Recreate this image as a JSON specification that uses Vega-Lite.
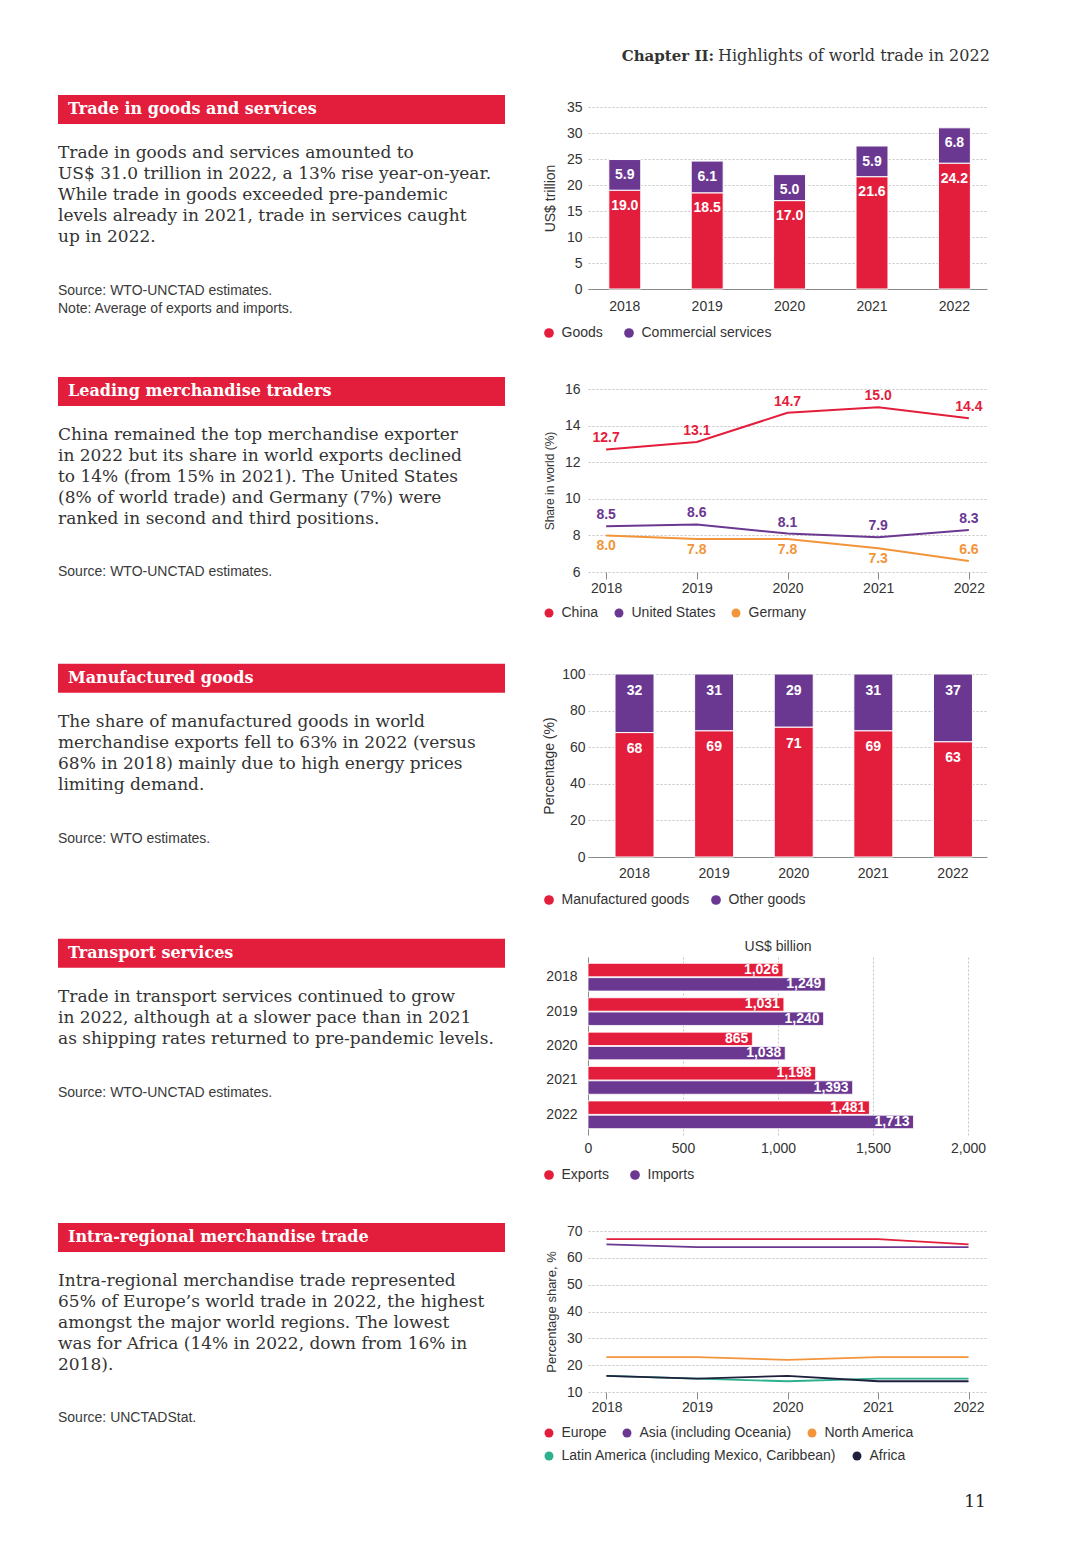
{
  "$schema": "https://vega.github.io/schema/vega-lite/v6.json",
  "background": "white",
  "padding": {"left": 58, "top": 0, "right": 0, "bottom": 0},
  "autosize": {"type": "pad"},
  "columns": 2,
  "spacing": 0,
  "align": "each",
  "bounds": "flush",
  "resolve": {"scale": {"color": "independent"}, "legend": {"color": "independent"}},
  "config": {
    "view": {"stroke": null},
    "font": "Liberation Sans",
    "axis": {
      "labelFont": "Liberation Sans", "labelFontSize": 14, "labelColor": "#333333",
      "titleFont": "Liberation Sans", "titleFontWeight": "normal", "titleColor": "#333333",
      "gridColor": "#c4c4c4", "gridDash": [2, 2], "domainColor": "#8a8a8a", "tickColor": "#8a8a8a",
      "ticks": false, "domain": false, "grid": false
    },
    "legend": {
      "labelFont": "Liberation Sans", "labelFontSize": 14, "labelColor": "#333333",
      "padding": 0, "labelOffset": 5.5, "columnPadding": 19, "labelLimit": 400
    }
  },
  "concat": [
    {"width": 530, "height": 107, "view": {"fill": "white"}, "data": {"values": []}, "mark": "point"},
    {
      "width": 492, "height": 107, "view": {"fill": "white"},
      "data": {"values": [{"a": "Chapter II:", "b": "Highlights of world trade in 2022"}]},
      "layer": [
        {"mark": {"type": "text", "align": "right", "baseline": "alphabetic", "font": "DejaVu Serif", "fontWeight": "bold", "fontSize": 15, "color": "#333333"},
         "encoding": {"x": {"value": 126}, "y": {"value": 61}, "text": {"field": "a"}}},
        {"mark": {"type": "text", "align": "left", "baseline": "alphabetic", "font": "DejaVu Serif", "fontSize": 16, "color": "#333333"},
         "encoding": {"x": {"value": 130}, "y": {"value": 61}, "text": {"field": "b"}}}
      ]
    },
    {
      "width": 530, "height": 182,
      "data": {"values": [
        {"kind": "header", "line": -1.3, "text": "Trade in goods and services"},
        {"kind": "body", "line": 1, "text": "Trade in goods and services amounted to"},
        {"kind": "body", "line": 2, "text": "US$ 31.0 trillion in 2022, a 13% rise year-on-year."},
        {"kind": "body", "line": 3, "text": "While trade in goods exceeded pre-pandemic"},
        {"kind": "body", "line": 4, "text": "levels already in 2021, trade in services caught"},
        {"kind": "body", "line": 5, "text": "up in 2022."},
        {"kind": "source", "line": 7.5, "text": "Source: WTO-UNCTAD estimates."},
        {"kind": "source", "line": 8.36, "text": "Note: Average of exports and imports."}
      ]},
      "encoding": {
        "y": {"field": "line", "type": "quantitative", "scale": {"domain": [-1.417, 7.209], "reverse": true, "nice": false, "zero": false}, "axis": null}
      },
      "layer": [
        {"transform": [{"filter": "datum.kind == 'header'"}], "mark": {"type": "rect", "color": "#E31E3C"},
         "encoding": {"x": {"value": 0}, "x2": {"value": 447}, "y": {"datum": -1.986}, "y2": {"datum": -0.611}}},
        {"transform": [{"filter": "datum.kind == 'header'"}], "mark": {"type": "text", "align": "left", "baseline": "middle", "font": "DejaVu Serif", "fontWeight": "bold", "fontSize": 16, "color": "white", "dx": 10},
         "encoding": {"x": {"value": 0}, "text": {"field": "text"}}},
        {"transform": [{"filter": "datum.kind == 'body'"}], "mark": {"type": "text", "align": "left", "baseline": "alphabetic", "font": "DejaVu Serif", "fontSize": 17, "color": "#333333"},
         "encoding": {"x": {"value": 0}, "text": {"field": "text"}}},
        {"transform": [{"filter": "datum.kind == 'source'"}], "mark": {"type": "text", "align": "left", "baseline": "alphabetic", "font": "Liberation Sans", "fontSize": 14, "color": "#3a3a3a"},
         "encoding": {"x": {"value": 0}, "text": {"field": "text"}}}
      ]
    },
    {
      "width": 399, "height": 182,
      "data": {"values": [
        {"year": "2018", "category": "Goods", "value": 19.0, "order": 1},
        {"year": "2018", "category": "Commercial services", "value": 5.9, "order": 2},
        {"year": "2019", "category": "Goods", "value": 18.5, "order": 1},
        {"year": "2019", "category": "Commercial services", "value": 6.1, "order": 2},
        {"year": "2020", "category": "Goods", "value": 17.0, "order": 1},
        {"year": "2020", "category": "Commercial services", "value": 5.0, "order": 2},
        {"year": "2021", "category": "Goods", "value": 21.6, "order": 1},
        {"year": "2021", "category": "Commercial services", "value": 5.9, "order": 2},
        {"year": "2022", "category": "Goods", "value": 24.2, "order": 1},
        {"year": "2022", "category": "Commercial services", "value": 6.8, "order": 2}
      ]},
      "encoding": {
        "x": {"field": "year", "type": "ordinal", "scale": {"paddingInner": 0.612, "paddingOuter": 0.227, "align": 0.556},
              "axis": {"title": null, "labelAngle": 0, "domain": true, "labelPadding": 10}},
        "y": {"field": "value", "type": "quantitative", "stack": "zero", "scale": {"domain": [0, 35], "nice": false},
              "axis": {"values": [0, 5, 10, 15, 20, 25, 30, 35], "grid": true, "title": "US$ trillion", "titleFontSize": 14, "labelPadding": 6, "titlePadding": 9}},
        "order": {"field": "order", "type": "quantitative"}
      },
      "layer": [
        {"mark": {"type": "bar", "stroke": "white", "strokeWidth": 1},
         "encoding": {"color": {"field": "category", "type": "nominal",
           "scale": {"domain": ["Goods", "Commercial services"], "range": ["#E31E3C", "#6B3891"]},
           "legend": {"orient": "none", "legendX": -46, "legendY": 219, "direction": "horizontal", "title": null, "symbolType": "circle", "symbolSize": 95, "symbolStrokeWidth": 0}}}},
        {"mark": {"type": "text", "dy": 15.5, "baseline": "middle", "fontWeight": "bold", "fontSize": 14, "color": "white"},
         "encoding": {"detail": {"field": "category"}, "text": {"field": "value", "type": "quantitative", "format": ".1f"}}}
      ]
    },
    {"width": 1, "height": 100, "data": {"values": []}, "mark": "point"},
    {"width": 1, "height": 100, "data": {"values": []}, "mark": "point"},
    {
      "width": 530, "height": 183,
      "data": {"values": [
        {"kind": "header", "line": -1.3, "text": "Leading merchandise traders"},
        {"kind": "body", "line": 1, "text": "China remained the top merchandise exporter"},
        {"kind": "body", "line": 2, "text": "in 2022 but its share in world exports declined"},
        {"kind": "body", "line": 3, "text": "to 14% (from 15% in 2021). The United States"},
        {"kind": "body", "line": 4, "text": "(8% of world trade) and Germany (7%) were"},
        {"kind": "body", "line": 5, "text": "ranked in second and third positions."},
        {"kind": "source", "line": 7.45, "text": "Source: WTO-UNCTAD estimates."}
      ]},
      "encoding": {
        "y": {"field": "line", "type": "quantitative", "scale": {"domain": [-1.417, 7.256], "reverse": true, "nice": false, "zero": false}, "axis": null}
      },
      "layer": [
        {"transform": [{"filter": "datum.kind == 'header'"}], "mark": {"type": "rect", "color": "#E31E3C"},
         "encoding": {"x": {"value": 0}, "x2": {"value": 447}, "y": {"datum": -1.986}, "y2": {"datum": -0.611}}},
        {"transform": [{"filter": "datum.kind == 'header'"}], "mark": {"type": "text", "align": "left", "baseline": "middle", "font": "DejaVu Serif", "fontWeight": "bold", "fontSize": 16, "color": "white", "dx": 10},
         "encoding": {"x": {"value": 0}, "text": {"field": "text"}}},
        {"transform": [{"filter": "datum.kind == 'body'"}], "mark": {"type": "text", "align": "left", "baseline": "alphabetic", "font": "DejaVu Serif", "fontSize": 17, "color": "#333333"},
         "encoding": {"x": {"value": 0}, "text": {"field": "text"}}},
        {"transform": [{"filter": "datum.kind == 'source'"}], "mark": {"type": "text", "align": "left", "baseline": "alphabetic", "font": "Liberation Sans", "fontSize": 14, "color": "#3a3a3a"},
         "encoding": {"x": {"value": 0}, "text": {"field": "text"}}}
      ]
    },
    {
      "width": 399, "height": 183,
      "data": {"values": [
        {"year": "2018", "economy": "China", "share": 12.7},
        {"year": "2019", "economy": "China", "share": 13.1},
        {"year": "2020", "economy": "China", "share": 14.7},
        {"year": "2021", "economy": "China", "share": 15.0},
        {"year": "2022", "economy": "China", "share": 14.4},
        {"year": "2018", "economy": "United States", "share": 8.5},
        {"year": "2019", "economy": "United States", "share": 8.6},
        {"year": "2020", "economy": "United States", "share": 8.1},
        {"year": "2021", "economy": "United States", "share": 7.9},
        {"year": "2022", "economy": "United States", "share": 8.3},
        {"year": "2018", "economy": "Germany", "share": 8.0},
        {"year": "2019", "economy": "Germany", "share": 7.8},
        {"year": "2020", "economy": "Germany", "share": 7.8},
        {"year": "2021", "economy": "Germany", "share": 7.3},
        {"year": "2022", "economy": "Germany", "share": 6.6}
      ]},
      "encoding": {
        "x": {"field": "year", "type": "ordinal", "scale": {"type": "point", "padding": 0.2},
              "axis": {"title": null, "labelAngle": 0, "ticks": true, "tickSize": 7, "labelPadding": 2}},
        "y": {"field": "share", "type": "quantitative", "scale": {"domain": [6, 16], "nice": false, "zero": false},
              "axis": {"values": [6, 8, 10, 12, 14, 16], "grid": true, "title": "Share in world (%)", "titleFontSize": 12, "labelPadding": 8, "titlePadding": 8}},
        "color": {"field": "economy", "type": "nominal",
          "scale": {"domain": ["China", "United States", "Germany"], "range": ["#E31E3C", "#6B3891", "#F2953A"]},
          "legend": {"orient": "none", "legendX": -46, "legendY": 217, "direction": "horizontal", "title": null, "symbolType": "circle", "symbolSize": 80, "symbolStrokeWidth": 0, "columnPadding": 13}}
      },
      "layer": [
        {"mark": {"type": "line", "strokeWidth": 2}},
        {"transform": [{"filter": "datum.economy != 'Germany' || datum.year == '2022'"}],
         "mark": {"type": "text", "dy": -11, "baseline": "middle", "fontWeight": "bold", "fontSize": 14},
         "encoding": {"text": {"field": "share", "type": "quantitative", "format": ".1f"}}},
        {"transform": [{"filter": "datum.economy == 'Germany' && datum.year != '2022'"}],
         "mark": {"type": "text", "dy": 11, "baseline": "middle", "fontWeight": "bold", "fontSize": 14},
         "encoding": {"text": {"field": "share", "type": "quantitative", "format": ".1f"}}}
      ]
    },
    {"width": 1, "height": 102, "data": {"values": []}, "mark": "point"},
    {"width": 1, "height": 102, "data": {"values": []}, "mark": "point"},
    {
      "width": 530, "height": 183,
      "data": {"values": [
        {"kind": "header", "line": -1.3, "text": "Manufactured goods"},
        {"kind": "body", "line": 1, "text": "The share of manufactured goods in world"},
        {"kind": "body", "line": 2, "text": "merchandise exports fell to 63% in 2022 (versus"},
        {"kind": "body", "line": 3, "text": "68% in 2018) mainly due to high energy prices"},
        {"kind": "body", "line": 4, "text": "limiting demand."},
        {"kind": "source", "line": 6.5, "text": "Source: WTO estimates."}
      ]},
      "encoding": {
        "y": {"field": "line", "type": "quantitative", "scale": {"domain": [-1.498, 7.175], "reverse": true, "nice": false, "zero": false}, "axis": null}
      },
      "layer": [
        {"transform": [{"filter": "datum.kind == 'header'"}], "mark": {"type": "rect", "color": "#E31E3C"},
         "encoding": {"x": {"value": 0}, "x2": {"value": 447}, "y": {"datum": -1.986}, "y2": {"datum": -0.611}}},
        {"transform": [{"filter": "datum.kind == 'header'"}], "mark": {"type": "text", "align": "left", "baseline": "middle", "font": "DejaVu Serif", "fontWeight": "bold", "fontSize": 16, "color": "white", "dx": 10},
         "encoding": {"x": {"value": 0}, "text": {"field": "text"}}},
        {"transform": [{"filter": "datum.kind == 'body'"}], "mark": {"type": "text", "align": "left", "baseline": "alphabetic", "font": "DejaVu Serif", "fontSize": 17, "color": "#333333"},
         "encoding": {"x": {"value": 0}, "text": {"field": "text"}}},
        {"transform": [{"filter": "datum.kind == 'source'"}], "mark": {"type": "text", "align": "left", "baseline": "alphabetic", "font": "Liberation Sans", "fontSize": 14, "color": "#3a3a3a"},
         "encoding": {"x": {"value": 0}, "text": {"field": "text"}}}
      ]
    },
    {
      "width": 399, "height": 183,
      "data": {"values": [
        {"year": "2018", "group": "Manufactured goods", "pct": 68, "order": 1},
        {"year": "2018", "group": "Other goods", "pct": 32, "order": 2},
        {"year": "2019", "group": "Manufactured goods", "pct": 69, "order": 1},
        {"year": "2019", "group": "Other goods", "pct": 31, "order": 2},
        {"year": "2020", "group": "Manufactured goods", "pct": 71, "order": 1},
        {"year": "2020", "group": "Other goods", "pct": 29, "order": 2},
        {"year": "2021", "group": "Manufactured goods", "pct": 69, "order": 1},
        {"year": "2021", "group": "Other goods", "pct": 31, "order": 2},
        {"year": "2022", "group": "Manufactured goods", "pct": 63, "order": 1},
        {"year": "2022", "group": "Other goods", "pct": 37, "order": 2}
      ]},
      "encoding": {
        "x": {"field": "year", "type": "ordinal", "scale": {"paddingInner": 0.51, "paddingOuter": 0.261, "align": 0.65},
              "axis": {"title": null, "labelAngle": 0, "domain": true, "labelPadding": 9}},
        "y": {"field": "pct", "type": "quantitative", "stack": "zero", "scale": {"domain": [0, 100], "nice": false},
              "axis": {"values": [0, 20, 40, 60, 80, 100], "grid": true, "title": "Percentage (%)", "titleFontSize": 14, "labelPadding": 3, "titlePadding": 5}},
        "order": {"field": "order", "type": "quantitative"}
      },
      "layer": [
        {"mark": {"type": "bar", "stroke": "white", "strokeWidth": 1},
         "encoding": {"color": {"field": "group", "type": "nominal",
           "scale": {"domain": ["Manufactured goods", "Other goods"], "range": ["#E31E3C", "#6B3891"]},
           "legend": {"orient": "none", "legendX": -46, "legendY": 219, "direction": "horizontal", "title": null, "symbolType": "circle", "symbolSize": 95, "symbolStrokeWidth": 0}}}},
        {"mark": {"type": "text", "dy": 16.5, "baseline": "middle", "fontWeight": "bold", "fontSize": 14, "color": "white"},
         "encoding": {"detail": {"field": "group"}, "text": {"field": "pct", "type": "quantitative"}}}
      ]
    },
    {"width": 1, "height": 100, "data": {"values": []}, "mark": "point"},
    {"width": 1, "height": 100, "data": {"values": []}, "mark": "point"},
    {
      "width": 530, "height": 178,
      "data": {"values": [
        {"kind": "header", "line": -1.3, "text": "Transport services"},
        {"kind": "body", "line": 1, "text": "Trade in transport services continued to grow"},
        {"kind": "body", "line": 2, "text": "in 2022, although at a slower pace than in 2021"},
        {"kind": "body", "line": 3, "text": "as shipping rates returned to pre-pandemic levels."},
        {"kind": "source", "line": 5.5, "text": "Source: WTO-UNCTAD estimates."}
      ]},
      "encoding": {
        "y": {"field": "line", "type": "quantitative", "scale": {"domain": [-1.118, 7.318], "reverse": true, "nice": false, "zero": false}, "axis": null}
      },
      "layer": [
        {"transform": [{"filter": "datum.kind == 'header'"}], "mark": {"type": "rect", "color": "#E31E3C"},
         "encoding": {"x": {"value": 0}, "x2": {"value": 447}, "y": {"datum": -1.986}, "y2": {"datum": -0.611}}},
        {"transform": [{"filter": "datum.kind == 'header'"}], "mark": {"type": "text", "align": "left", "baseline": "middle", "font": "DejaVu Serif", "fontWeight": "bold", "fontSize": 16, "color": "white", "dx": 10},
         "encoding": {"x": {"value": 0}, "text": {"field": "text"}}},
        {"transform": [{"filter": "datum.kind == 'body'"}], "mark": {"type": "text", "align": "left", "baseline": "alphabetic", "font": "DejaVu Serif", "fontSize": 17, "color": "#333333"},
         "encoding": {"x": {"value": 0}, "text": {"field": "text"}}},
        {"transform": [{"filter": "datum.kind == 'source'"}], "mark": {"type": "text", "align": "left", "baseline": "alphabetic", "font": "Liberation Sans", "fontSize": 14, "color": "#3a3a3a"},
         "encoding": {"x": {"value": 0}, "text": {"field": "text"}}}
      ]
    },
    {
      "width": 380, "height": 178,
      "title": {"text": "US$ billion", "fontSize": 14, "fontWeight": "normal", "color": "#333333", "font": "Liberation Sans", "offset": 3, "anchor": "middle", "frame": "group"},
      "data": {"values": [
        {"year": "2018", "flow": "Exports", "usd": 1026},
        {"year": "2018", "flow": "Imports", "usd": 1249},
        {"year": "2019", "flow": "Exports", "usd": 1031},
        {"year": "2019", "flow": "Imports", "usd": 1240},
        {"year": "2020", "flow": "Exports", "usd": 865},
        {"year": "2020", "flow": "Imports", "usd": 1038},
        {"year": "2021", "flow": "Exports", "usd": 1198},
        {"year": "2021", "flow": "Imports", "usd": 1393},
        {"year": "2022", "flow": "Exports", "usd": 1481},
        {"year": "2022", "flow": "Imports", "usd": 1713}
      ]},
      "encoding": {
        "y": {"field": "year", "type": "nominal", "scale": {"paddingInner": 0.195, "paddingOuter": 0.185},
              "axis": {"title": null, "domain": true, "labelPadding": 11}},
        "yOffset": {"field": "flow", "type": "nominal", "scale": {"domain": ["Exports", "Imports"], "paddingInner": 0.06}},
        "x": {"field": "usd", "type": "quantitative", "scale": {"domain": [0, 2000], "nice": false},
              "axis": {"values": [0, 500, 1000, 1500, 2000], "format": ",.0f", "grid": true, "title": null, "labelPadding": 6, "labelFlush": false}}
      },
      "layer": [
        {"mark": {"type": "bar", "stroke": "white", "strokeWidth": 0.8},
         "encoding": {"color": {"field": "flow", "type": "nominal",
           "scale": {"domain": ["Exports", "Imports"], "range": ["#E31E3C", "#6B3891"]},
           "legend": {"orient": "none", "legendX": -46, "legendY": 211, "direction": "horizontal", "title": null, "symbolType": "circle", "symbolSize": 95, "symbolStrokeWidth": 0}}}},
        {"mark": {"type": "text", "align": "right", "dx": -4, "baseline": "middle", "fontWeight": "bold", "fontSize": 14, "color": "white"},
         "encoding": {"text": {"field": "usd", "type": "quantitative", "format": ",.0f"}}}
      ]
    },
    {"width": 1, "height": 96, "data": {"values": []}, "mark": "point"},
    {"width": 1, "height": 96, "data": {"values": []}, "mark": "point"},
    {
      "width": 530, "height": 161,
      "data": {"values": [
        {"kind": "header", "line": -1.3, "text": "Intra-regional merchandise trade"},
        {"kind": "body", "line": 1, "text": "Intra-regional merchandise trade represented"},
        {"kind": "body", "line": 2, "text": "65% of Europe’s world trade in 2022, the highest"},
        {"kind": "body", "line": 3, "text": "amongst the major world regions. The lowest"},
        {"kind": "body", "line": 4, "text": "was for Africa (14% in 2022, down from 16% in"},
        {"kind": "body", "line": 5, "text": "2018)."},
        {"kind": "source", "line": 7.45, "text": "Source: UNCTADStat."}
      ]},
      "encoding": {
        "y": {"field": "line", "type": "quantitative", "scale": {"domain": [-1.607, 6.024], "reverse": true, "nice": false, "zero": false}, "axis": null}
      },
      "layer": [
        {"transform": [{"filter": "datum.kind == 'header'"}], "mark": {"type": "rect", "color": "#E31E3C"},
         "encoding": {"x": {"value": 0}, "x2": {"value": 447}, "y": {"datum": -1.986}, "y2": {"datum": -0.611}}},
        {"transform": [{"filter": "datum.kind == 'header'"}], "mark": {"type": "text", "align": "left", "baseline": "middle", "font": "DejaVu Serif", "fontWeight": "bold", "fontSize": 16, "color": "white", "dx": 10},
         "encoding": {"x": {"value": 0}, "text": {"field": "text"}}},
        {"transform": [{"filter": "datum.kind == 'body'"}], "mark": {"type": "text", "align": "left", "baseline": "alphabetic", "font": "DejaVu Serif", "fontSize": 17, "color": "#333333"},
         "encoding": {"x": {"value": 0}, "text": {"field": "text"}}},
        {"transform": [{"filter": "datum.kind == 'source'"}], "mark": {"type": "text", "align": "left", "baseline": "alphabetic", "font": "Liberation Sans", "fontSize": 14, "color": "#3a3a3a"},
         "encoding": {"x": {"value": 0}, "text": {"field": "text"}}}
      ]
    },
    {
      "width": 399, "height": 161,
      "data": {"values": [
        {"year": "2018", "region": "Europe", "pct": 67},
        {"year": "2019", "region": "Europe", "pct": 67},
        {"year": "2020", "region": "Europe", "pct": 67},
        {"year": "2021", "region": "Europe", "pct": 67},
        {"year": "2022", "region": "Europe", "pct": 65},
        {"year": "2018", "region": "Asia (including Oceania)", "pct": 65},
        {"year": "2019", "region": "Asia (including Oceania)", "pct": 64},
        {"year": "2020", "region": "Asia (including Oceania)", "pct": 64},
        {"year": "2021", "region": "Asia (including Oceania)", "pct": 64},
        {"year": "2022", "region": "Asia (including Oceania)", "pct": 64},
        {"year": "2018", "region": "North America", "pct": 23},
        {"year": "2019", "region": "North America", "pct": 23},
        {"year": "2020", "region": "North America", "pct": 22},
        {"year": "2021", "region": "North America", "pct": 23},
        {"year": "2022", "region": "North America", "pct": 23},
        {"year": "2018", "region": "Latin America (including Mexico, Caribbean)", "pct": 16},
        {"year": "2019", "region": "Latin America (including Mexico, Caribbean)", "pct": 15},
        {"year": "2020", "region": "Latin America (including Mexico, Caribbean)", "pct": 14},
        {"year": "2021", "region": "Latin America (including Mexico, Caribbean)", "pct": 15},
        {"year": "2022", "region": "Latin America (including Mexico, Caribbean)", "pct": 15},
        {"year": "2018", "region": "Africa", "pct": 16},
        {"year": "2019", "region": "Africa", "pct": 15},
        {"year": "2020", "region": "Africa", "pct": 16},
        {"year": "2021", "region": "Africa", "pct": 14},
        {"year": "2022", "region": "Africa", "pct": 14}
      ]},
      "encoding": {
        "x": {"field": "year", "type": "ordinal", "scale": {"type": "point", "padding": 0.204},
              "axis": {"title": null, "labelAngle": 0, "ticks": true, "tickSize": 7, "labelPadding": 1}},
        "y": {"field": "pct", "type": "quantitative", "scale": {"domain": [10, 70], "nice": false, "zero": false},
              "axis": {"values": [10, 20, 30, 40, 50, 60, 70], "grid": true, "title": "Percentage share, %", "titleFontSize": 13, "labelPadding": 6, "titlePadding": 8}}
      },
      "resolve": {"scale": {"color": "independent"}, "legend": {"color": "independent"}},
      "layer": [
        {"transform": [{"filter": "datum.region == 'Europe' || datum.region == 'Asia (including Oceania)' || datum.region == 'North America'"}],
         "encoding": {
           "color": {"field": "region", "type": "nominal",
             "scale": {"domain": ["Europe", "Asia (including Oceania)", "North America"], "range": ["#E31E3C", "#6B3891", "#F2953A"]},
             "legend": {"orient": "none", "legendX": -46, "legendY": 195, "direction": "horizontal", "title": null, "symbolType": "circle", "symbolSize": 80, "symbolStrokeWidth": 0, "columnPadding": 13}}},
         "layer": [
           {"mark": {"type": "line", "strokeWidth": 1.8}},
           {"mark": {"type": "text"}, "encoding": {"text": {"value": ""}}}
         ]},
        {"transform": [{"filter": "datum.region == 'Latin America (including Mexico, Caribbean)' || datum.region == 'Africa'"}],
         "encoding": {
           "color": {"field": "region", "type": "nominal",
             "scale": {"domain": ["Latin America (including Mexico, Caribbean)", "Africa"], "range": ["#2DB08E", "#1F203D"]},
             "legend": {"orient": "none", "legendX": -46, "legendY": 218, "direction": "horizontal", "title": null, "symbolType": "circle", "symbolSize": 80, "symbolStrokeWidth": 0, "columnPadding": 13}}},
         "layer": [
           {"mark": {"type": "line", "strokeWidth": 1.8}},
           {"mark": {"type": "text"}, "encoding": {"text": {"value": ""}}}
         ]}
      ]
    },
    {"width": 530, "height": 172, "data": {"values": []}, "mark": "point"},
    {
      "width": 492, "height": 172,
      "data": {"values": [{"p": "11"}]},
      "mark": {"type": "text", "align": "center", "baseline": "alphabetic", "font": "DejaVu Serif", "fontSize": 17, "color": "#222222"},
      "encoding": {"x": {"value": 387}, "y": {"value": 115}, "text": {"field": "p"}}
    }
  ]
}
